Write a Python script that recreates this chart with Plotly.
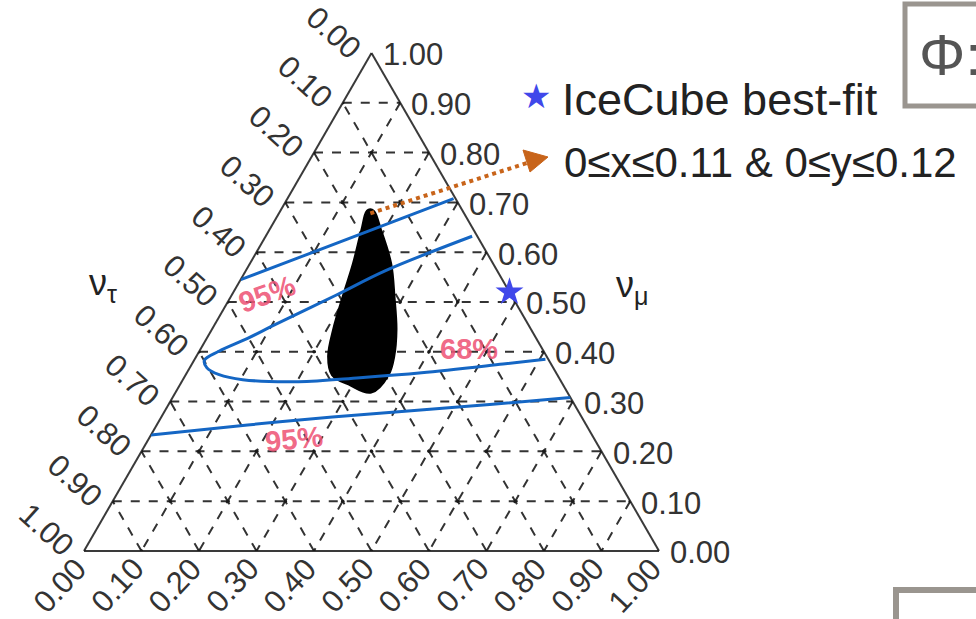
import math
import plotly.graph_objects as go

W, H = 976, 619

# ---------------- data (fractions: nu_e, nu_mu ; nu_tau = 1 - nu_e - nu_mu) ----------------
tick_vals = [round(0.1 * i, 2) for i in range(11)]
tick_text = [f"{v:.2f}" for v in tick_vals]

# allowed region for 0<=x<=0.11 & 0<=y<=0.12 (outline)
blob_e = [0.159, 0.189, 0.240, 0.278, 0.314, 0.337, 0.345, 0.335, 0.296, 0.258, 0.236, 0.218, 0.202, 0.187, 0.168, 0.159]
blob_mu = [0.678, 0.642, 0.575, 0.510, 0.445, 0.391, 0.358, 0.326, 0.340, 0.358, 0.391, 0.445, 0.510, 0.575, 0.642, 0.678]

# IceCube 95% contour, upper branch
c95u_e = [0.000, 0.079, 0.176, 0.289]
c95u_mu = [0.545, 0.589, 0.644, 0.7075]
# IceCube 68% contour
c68_e = [0.359, 0.243, 0.182, 0.105, 0.071, 0.034, 0.018, 0.030, 0.058, 0.104, 0.203, 0.306, 0.408, 0.541, 0.610]
c68_mu = [0.632, 0.563, 0.514, 0.4545, 0.427, 0.401, 0.383, 0.3676, 0.354, 0.344, 0.340, 0.348, 0.358, 0.3755, 0.385]
# IceCube 95% contour, lower branch
c95l_e = [0.000, 0.158, 0.2975, 0.5636, 0.692]
c95l_mu = [0.233, 0.253, 0.269, 0.2945, 0.308]

# IceCube best fit
bf_e, bf_mu = [0.48], [0.52]

# contour label positions (nu_e, nu_mu, text, angle)
cl_labels = [(0.060, 0.516, "95%", -20), (0.4675, 0.405, "68%", 0), (0.2535, 0.225, "95%", -6)]


def tau(e, mu):
    return [max(0.0, 1 - a - b) for a, b in zip(e, mu)]


# ---------------- geometry of the ternary panel ----------------
TX0, TW = 84.0, 575.0
TH = TW * math.sqrt(3) / 2
TY0 = 53.0
dom_x = [TX0 / W, (TX0 + TW) / W]
yc = 1 - (TY0 + TH / 2) / H
dom_y = [yc - 0.405, yc + 0.405]


def to_px(e, mu):
    return TX0 + TW * (e + mu / 2), TY0 + TH * (1 - mu)


def px2paper(x, y):
    return x / W, 1 - y / H


def to_paper(e, mu):
    return px2paper(*to_px(e, mu))


fig = go.Figure()

# grid intersection dots
ga, gb, gc = [], [], []
for i in range(11):
    for j in range(11 - i):
        ga.append(i / 10); gc.append(j / 10); gb.append(max(0.0, 1 - i / 10 - j / 10))
fig.add_trace(go.Scatterternary(a=ga, b=gb, c=gc, mode="markers",
                                marker=dict(size=3.5, color="#1a1a1a"), hoverinfo="skip"))

fig.add_trace(go.Scatterternary(a=blob_mu, b=tau(blob_e, blob_mu), c=blob_e, mode="lines",
                                fill="toself", fillcolor="black",
                                line=dict(color="black", width=10, shape="spline"),
                                hoverinfo="skip"))

blue = "#1466c4"
for e, mu in [(c95u_e, c95u_mu), (c68_e, c68_mu), (c95l_e, c95l_mu)]:
    fig.add_trace(go.Scatterternary(a=mu, b=tau(e, mu), c=e, mode="lines",
                                    line=dict(color=blue, width=3, shape="spline", smoothing=1),
                                    hoverinfo="skip"))

fig.add_trace(go.Scatterternary(a=bf_mu, b=tau(bf_e, bf_mu), c=bf_e, mode="markers",
                                cliponaxis=False,
                                marker=dict(symbol="star", size=21, color="#4048ea",
                                            line=dict(width=0)), hoverinfo="skip"))

axis_common = dict(tickvals=tick_vals, ticks="", showticklabels=False, showline=True,
                   linecolor="#3a3a3a", linewidth=2, showgrid=True, gridcolor="#333333",
                   gridwidth=1.7, griddash="dash", layer="below traces",
                   title=dict(text=""), min=0)

fig.update_layout(
    width=W, height=H, margin=dict(l=0, r=0, t=0, b=0),
    paper_bgcolor="white", showlegend=False,
    ternary=dict(
        domain=dict(x=dom_x, y=dom_y), sum=1, bgcolor="white",
        aaxis=axis_common, baxis=axis_common, caxis=axis_common,
    ),
)

tick_font = dict(family="Liberation Sans", size=31, color="#333333")
annotations = []
for v, t in zip(tick_vals, tick_text):
    # bottom axis (nu_e)
    x, y = to_px(v, 0.0)
    px, py = px2paper(x - 24, y + 35)
    annotations.append(dict(x=px, y=py, xref="paper", yref="paper", text=t, showarrow=False,
                            xanchor="center", yanchor="middle", textangle=-47, font=tick_font))
    # left axis (nu_tau)
    x, y = to_px(0.0, 1 - v)
    px, py = px2paper(x - 38, y - 21)
    annotations.append(dict(x=px, y=py, xref="paper", yref="paper", text=t, showarrow=False,
                            xanchor="center", yanchor="middle", textangle=42, font=tick_font))
    # right axis (nu_mu)
    x, y = to_px(1 - v, v)
    px, py = px2paper(x + 9, y + 2)
    annotations.append(dict(x=px, y=py, xref="paper", yref="paper", text=t, showarrow=False,
                            xanchor="left", yanchor="middle", font=tick_font))

for e, mu, txt, ang in cl_labels:
    px, py = to_paper(e, mu)
    annotations.append(dict(x=px, y=py, xref="paper", yref="paper", text=f"<b>{txt}</b>",
                            showarrow=False, textangle=ang, xanchor="center", yanchor="middle",
                            font=dict(family="Liberation Sans", size=29, color="rgba(238,86,120,0.9)")))


def ann(x, y, text, font, xanchor="center"):
    px, py = px2paper(x, y)
    return dict(x=px, y=py, xref="paper", yref="paper", text=text, showarrow=False,
                xanchor=xanchor, yanchor="middle", font=font)


annotations += [
    ann(103, 285, "ν<sub>τ</sub>", dict(family="Liberation Sans", size=36, color="#222")),
    ann(632, 287, "ν<sub>μ</sub>", dict(family="Liberation Sans", size=36, color="#222")),
    ann(536, 96, "★", dict(family="DejaVu Sans", size=34, color="#4048ea")),
    ann(560, 99, "IceCube best-fit", dict(family="Liberation Sans", size=45, color="#222"), "left"),
    ann(562, 163, "0≤x≤0.11 &amp; 0≤y≤0.12", dict(family="Liberation Sans", size=42, color="#222"), "left"),
    ann(917, 55, "Φ:", dict(family="Liberation Sans", size=58, color="#555555"), "left"),
]
fig.update_layout(annotations=annotations)

# dotted pointer from the region tip to the legend text
orange = "#c8641a"
tip_x, tip_y = to_paper(blob_e[0], blob_mu[0])
hx, hy = px2paper(548, 157)
ex, ey = px2paper(527, 163)
b1x, b1y = px2paper(523, 150)
b2x, b2y = px2paper(530, 172)
bx0, by0 = px2paper(905, 106)
bx1, by1 = px2paper(896, 590)
shapes = [
    dict(type="line", xref="paper", yref="paper", x0=tip_x, y0=tip_y, x1=ex, y1=ey,
         line=dict(color=orange, width=4, dash="dot")),
    dict(type="path", xref="paper", yref="paper",
         path=f"M {hx} {hy} L {b1x} {b1y} L {b2x} {b2y} Z",
         fillcolor=orange, line=dict(color=orange, width=1)),
    dict(type="rect", xref="paper", yref="paper", x0=bx0, x1=1.05, y0=by0, y1=1 - 4 / H,
         line=dict(color="#9a958f", width=5)),
    dict(type="rect", xref="paper", yref="paper", x0=bx1, x1=1.05, y0=-0.05, y1=by1,
         line=dict(color="#9a958f", width=6)),
]
fig.update_layout(shapes=shapes)

fig.write_html("out.html", config={"displayModeBar": False},
               post_script="document.body.style.margin='0px';")
